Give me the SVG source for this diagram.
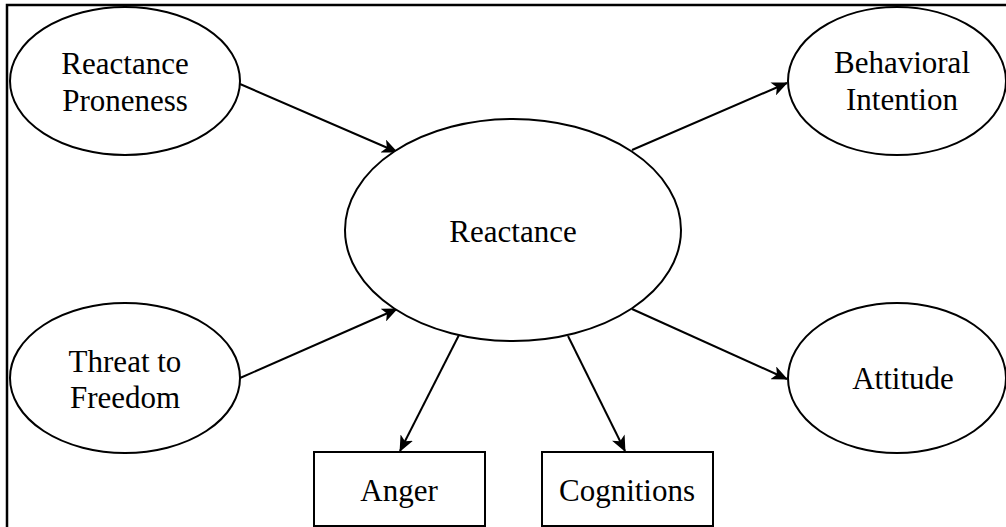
<svg xmlns="http://www.w3.org/2000/svg" width="1006" height="527" viewBox="0 0 1006 527">
<defs>
<style>
.node{fill:#fff;stroke:#000;stroke-width:2}
.lbl{font-family:"Liberation Serif","Times New Roman",serif;font-size:31px;fill:#000;text-anchor:middle}
.edge{stroke:#000;stroke-width:2;fill:none;marker-end:url(#arr)}
.frame{stroke:#000;stroke-width:2.5;fill:none}
</style>
<marker id="arr" viewBox="0 0 16 14" refX="15" refY="7" markerWidth="16" markerHeight="14" markerUnits="userSpaceOnUse" orient="auto">
<path d="M0,0 L16,7 L0,14 L4,7 Z" fill="#000"/>
</marker>
</defs>
<rect width="1006" height="527" fill="#fff"/>
<path class="frame" d="M7,527 L7,5 L1006,5"/>
<g id="connectors">
<line class="edge" x1="240" y1="84" x2="397" y2="152"/>
<line class="edge" x1="240" y1="378" x2="397" y2="309"/>
<line class="edge" x1="632" y1="150" x2="787" y2="83"/>
<line class="edge" x1="632" y1="309" x2="787" y2="379"/>
<line class="edge" x1="459" y1="335" x2="400" y2="451"/>
<line class="edge" x1="568" y1="336" x2="625" y2="451"/>
</g>
<g id="proneness">
<ellipse class="node" cx="125" cy="81" rx="115" ry="74"/>
<text class="lbl" x="125" y="74">Reactance</text>
<text class="lbl" x="125" y="111">Proneness</text>
</g>
<g id="threat">
<ellipse class="node" cx="125" cy="378" rx="115" ry="75"/>
<text class="lbl" x="125" y="372">Threat to</text>
<text class="lbl" x="125" y="408">Freedom</text>
</g>
<g id="reactance">
<ellipse class="node" cx="513" cy="230" rx="168" ry="111"/>
<text class="lbl" x="513" y="242">Reactance</text>
</g>
<g id="behavioral">
<ellipse class="node" cx="897" cy="81" rx="109" ry="74"/>
<text class="lbl" x="902" y="73">Behavioral</text>
<text class="lbl" x="902" y="110">Intention</text>
</g>
<g id="attitude">
<ellipse class="node" cx="897" cy="378" rx="109" ry="75"/>
<text class="lbl" x="903" y="389">Attitude</text>
</g>
<g id="anger">
<rect class="node" x="314" y="452" width="171" height="74"/>
<text class="lbl" x="399" y="501">Anger</text>
</g>
<g id="cognitions">
<rect class="node" x="542" y="452" width="171" height="74"/>
<text class="lbl" x="627" y="501">Cognitions</text>
</g>
</svg>
